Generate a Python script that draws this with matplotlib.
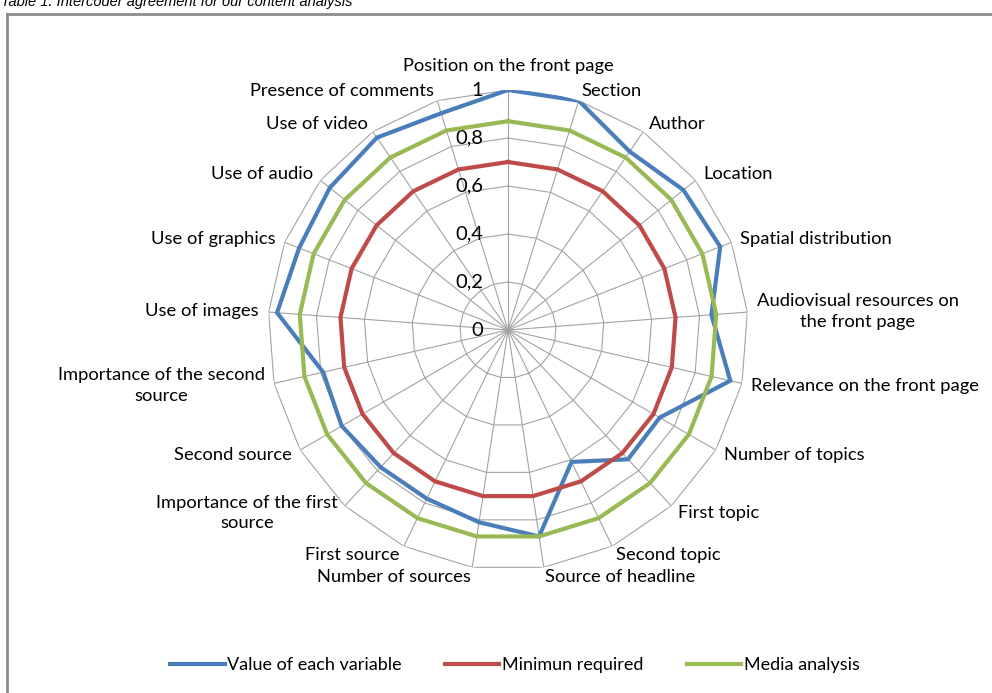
import numpy as np
import matplotlib
matplotlib.use("Agg")
import matplotlib.pyplot as plt
from matplotlib.lines import Line2D
from matplotlib.transforms import offset_copy

categories = [
    "Position on the front page", "Section", "Author", "Location",
    "Spatial distribution", "Audiovisual resources on\nthe front page",
    "Relevance on the front page", "Number of topics", "First topic",
    "Second topic", "Source of headline", "Number of sources", "First source",
    "Importance of the first\nsource", "Second source",
    "Importance of the second\nsource", "Use of images", "Use of graphics",
    "Use of audio", "Use of video", "Presence of comments",
]
value_each = [1.0, 1.0, 0.90, 0.935, 0.95, 0.85, 0.95, 0.73, 0.735, 0.61, 0.87,
              0.81, 0.78, 0.78, 0.80, 0.79, 0.965, 0.935, 0.95, 0.97, 0.945]
minimum = [0.70, 0.70, 0.70, 0.70, 0.70, 0.70, 0.70, 0.70, 0.70, 0.70, 0.70,
           0.70, 0.70, 0.70, 0.70, 0.70, 0.70, 0.70, 0.70, 0.70, 0.70]
media = [0.87, 0.87, 0.87, 0.87, 0.87, 0.87, 0.87, 0.87, 0.87, 0.87, 0.87,
         0.87, 0.87, 0.87, 0.87, 0.87, 0.87, 0.87, 0.87, 0.87, 0.87]
rings = [0.2, 0.4, 0.6, 0.8, 1.0]
ring_labels = ["0", "0,2", "0,4", "0,6", "0,8", "1"]

series = [
    ("Value of each variable", value_each, "#4a7ebb"),
    ("Minimun required", minimum, "#be4b48"),
    ("Media analysis", media, "#98b954"),
]

plt.rcParams["font.family"] = ["Lato", "DejaVu Sans"]

W, H = 992, 693
fig = plt.figure(figsize=(W / 100, H / 100), dpi=100)

# caption above the frame, mostly cut off by the top edge
fig.text(1 / W, 1 - 6 / H, "Table 1. Intercoder agreement for our content analysis",
         family="Liberation Sans", style="italic", fontsize=10.5, va="baseline")

# chart frame (left and top edges)
fig.add_artist(Line2D([7 / W, 7 / W], [-0.05, 1 - 14 / H], transform=fig.transFigure,
                      color="#8c8c8c", lw=2))
fig.add_artist(Line2D([7 / W, 1.05], [1 - 14 / H, 1 - 14 / H], transform=fig.transFigure,
                      color="#8c8c8c", lw=2))

cx, cy, R = 508, 330, 240
ax = fig.add_axes([(cx - R) / W, (H - cy - R) / H, 2 * R / W, 2 * R / H], polar=True)
ax.set_theta_zero_location("N")
ax.set_theta_direction(-1)
ax.set_ylim(0, 1)
ax.grid(False)
ax.spines["polar"].set_visible(False)
ax.set_xticks([])
ax.set_yticks([])
ax.patch.set_alpha(0)

n = len(categories)
angles = np.linspace(0, 2 * np.pi, n, endpoint=False)
closed = np.append(angles, angles[0])

# polygon gridlines and spokes
for r in rings:
    ax.plot(closed, [r] * (n + 1), color="#a3a3a3", lw=0.8, zorder=1)
for a in angles:
    ax.plot([a, a], [0, 1], color="#a3a3a3", lw=0.8, zorder=1)

# radial axis labels
lab_tr = offset_copy(ax.transData, fig=fig, x=-25, y=0, units="dots")
for v, t in zip([0.0] + rings, ring_labels):
    ax.text(0, v, t, transform=lab_tr, ha="right", va="center", fontsize=14.5)

for name, vals, col in series:
    ax.plot(closed, list(vals) + [vals[0]], color=col, lw=3, label=name,
            zorder=3, solid_joinstyle="miter")

# category labels around the outside
for a, name in zip(angles, categories):
    s = np.sin(a)
    r = 1.04
    if s > 0.05:
        ha = "left"
    elif s < -0.05:
        ha = "right"
    else:
        ha = "center"
        r = 1.10
    ax.text(a, r, name, ha=ha, va="center", multialignment="center",
            fontsize=13.2, linespacing=1.35)

fig.legend(loc="center", bbox_to_anchor=(515 / W, 1 - 665 / H), ncol=3,
           frameon=False, fontsize=13, handlelength=3.0, columnspacing=2.4,
           handletextpad=0.15)

fig.savefig("out.png", dpi=100)
